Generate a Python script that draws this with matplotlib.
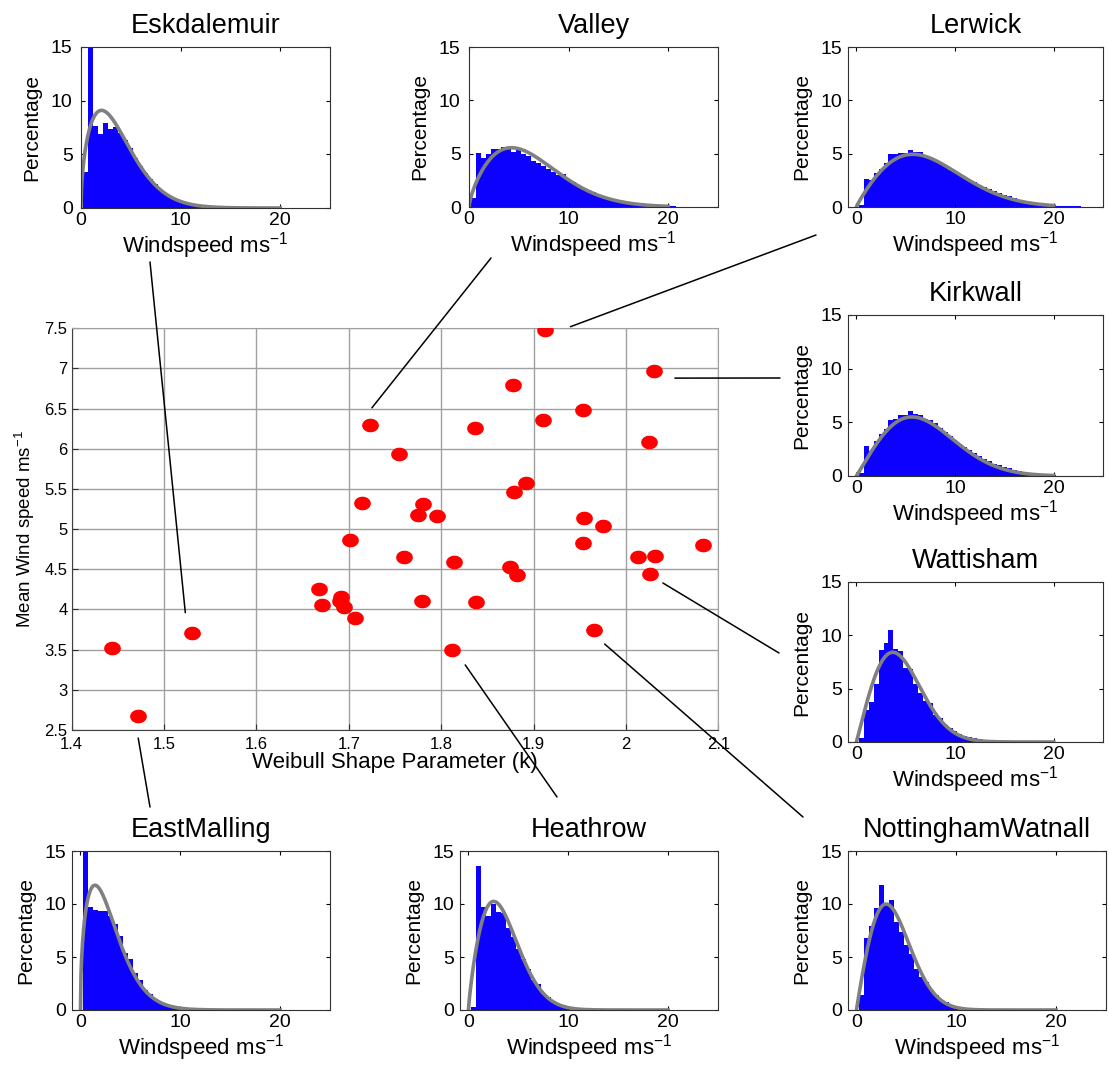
import numpy as np
import matplotlib.pyplot as plt
from matplotlib.path import Path
from matplotlib.patches import ConnectionPatch

plt.rcParams['font.family'] = ['Liberation Sans', 'DejaVu Sans']
plt.rcParams['mathtext.default'] = 'regular'

# Weibull shape parameter and mean wind speed for every station
shape_k = [1.444, 1.472, 1.530, 1.723, 1.754, 1.714, 1.701, 1.760, 1.668, 1.671,
           1.692, 1.690, 1.695, 1.707, 1.912, 2.030, 1.878, 1.954, 1.910, 1.837,
           2.025, 1.892, 1.879, 1.780, 1.775, 1.795, 1.955, 1.975, 1.953, 2.083,
           2.013, 2.031, 1.814, 1.874, 1.882, 2.026, 1.779, 1.838, 1.965, 1.812]
mean_ws = [3.52, 2.67, 3.71, 6.30, 5.94, 5.33, 4.86, 4.65, 4.26, 4.06,
           4.15, 4.10, 4.03, 3.89, 7.48, 6.97, 6.80, 6.48, 6.36, 6.26,
           6.08, 5.58, 5.46, 5.31, 5.17, 5.16, 5.14, 5.04, 4.83, 4.80,
           4.65, 4.67, 4.59, 4.53, 4.43, 4.44, 4.11, 4.09, 3.74, 3.50]

x_ticks = [1.4, 1.5, 1.6, 1.7, 1.8, 1.9, 2.0, 2.1]
x_ticklabels = ['1.4', '1.5', '1.6', '1.7', '1.8', '1.9', '2', '2.1']
y_ticks = [2.5, 3, 3.5, 4, 4.5, 5, 5.5, 6, 6.5, 7, 7.5]
y_ticklabels = ['2.5', '3', '3.5', '4', '4.5', '5', '5.5', '6', '6.5', '7', '7.5']

# windspeed histograms (percentage per 0.5 m/s bin, bins centred on 0.5, 1.0, ...)
bin_width = 0.5
hist_eskdalemuir = [3.4, 17, 7.6, 6.9, 7.9, 7.4, 7.5, 7.0, 6.3, 5.6, 4.7, 3.9, 3.3, 2.7,
                    2.2, 1.7, 1.3, 1.0, 0.8, 0.55, 0.4, 0.28, 0.18, 0.12, 0.08, 0.05, 0.03]
hist_valley = [0.8, 5.1, 4.6, 5.0, 5.4, 5.4, 5.6, 5.5, 5.2, 5.3, 5.0, 4.8, 4.3, 4.1, 3.8,
               3.6, 3.3, 3.0, 3.1, 2.5, 2.3, 2.0, 1.8, 1.55, 1.4, 1.1, 0.95, 0.8, 0.65,
               0.55, 0.42, 0.33, 0.27, 0.2, 0.16, 0.12, 0.1, 0.08, 0.06, 0.1, 0.1, 0.04,
               0.03, 0.02]
hist_lerwick = [0.2, 2.6, 2.55, 3.2, 3.6, 4.1, 5.0, 4.95, 5.05, 5.1, 5.3, 5.2, 5.2, 4.7,
                4.6, 4.3, 4.1, 3.8, 3.5, 3.25, 3.0, 2.7, 2.55, 2.3, 2.1, 1.9, 1.7, 1.5,
                1.3, 1.15, 1.0, 0.8, 0.65, 0.55, 0.45, 0.35, 0.28, 0.22, 0.18, 0.15,
                0.13, 0.11, 0.09, 0.08, 0.05]
hist_kirkwall = [0.3, 2.8, 2.35, 3.3, 3.9, 4.4, 5.25, 5.35, 5.65, 5.65, 6.05, 5.8, 5.7,
                 5.35, 5.25, 4.9, 4.5, 4.1, 3.7, 3.35, 3.0, 2.7, 2.4, 2.1, 1.85, 1.6,
                 1.4, 1.15, 1.0, 0.85, 0.7, 0.55, 0.45, 0.35, 0.28, 0.2, 0.15, 0.1,
                 0.07, 0.05]
hist_wattisham = [0.4, 3.0, 3.75, 5.4, 8.65, 9.3, 10.5, 8.7, 8.5, 6.9, 6.8, 5.4, 4.6,
                  3.8, 3.65, 2.55, 2.25, 1.6, 1.3, 1.0, 0.78, 0.6, 0.45, 0.33, 0.25,
                  0.18, 0.12, 0.08, 0.05, 0.03]
hist_eastmalling = [16, 9.7, 9.4, 9.3, 9.3, 8.9, 8.15, 6.95, 5.4, 4.8, 3.45, 2.8, 1.9,
                    1.55, 1.0, 0.72, 0.55, 0.38, 0.25, 0.17, 0.1, 0.07, 0.05, 0.03]
hist_heathrow = [0.25, 13.6, 9.7, 8.9, 10.0, 9.2, 9.15, 7.7, 6.9, 5.8, 4.85, 3.9, 2.8,
                 2.5, 1.55, 1.2, 0.85, 0.6, 0.45, 0.28, 0.18, 0.12, 0.08, 0.05, 0.03]
hist_nottingham = [1.4, 6.8, 7.9, 9.6, 11.8, 10.0, 10.4, 8.3, 7.4, 6.1, 5.3, 3.9, 3.1,
                   2.6, 1.9, 1.4, 0.9, 0.72, 0.47, 0.31, 0.2, 0.13, 0.08, 0.05, 0.03]

# fitted Weibull parameters (shape k, scale c) for the inset stations
fit_k = [1.53, 1.72, 1.91, 2.03, 2.03, 1.47, 1.81, 1.97]
fit_c = [4.12, 7.07, 8.43, 7.87, 5.15, 3.15, 3.94, 4.25]

stations = ['Eskdalemuir', 'Valley', 'Lerwick', 'Kirkwall', 'Wattisham',
            'EastMalling', 'Heathrow', 'NottinghamWatnall']
hists = [hist_eskdalemuir, hist_valley, hist_lerwick, hist_kirkwall, hist_wattisham,
         hist_eastmalling, hist_heathrow, hist_nottingham]

W, H = 1109, 1066
fig = plt.figure(figsize=(W / 100, H / 100), dpi=100)


def px_axes(x0, y0, x1, y1):
    return fig.add_axes([x0 / W, 1 - y1 / H, (x1 - x0) / W, (y1 - y0) / H])


# inset boxes in pixels (left, top, right, bottom) and x limits
boxes = [(81, 47, 330, 208), (469, 47, 718, 207), (848, 47, 1103, 207),
         (848, 315, 1103, 476), (848, 582, 1103, 742), (72, 851, 330, 1010),
         (460, 851, 718, 1010), (848, 851, 1106, 1010)]
xlefts = [0, 0, -0.85, -0.85, -0.85, -0.85, -0.85, -0.85]

# central scatter
ax = px_axes(71.7, 328.3, 718.3, 730)
t = np.linspace(0, 2 * np.pi, 60)
ellipse = Path(np.column_stack([1.25 * np.cos(t), np.sin(t)]), closed=True)
ax.plot(shape_k, mean_ws, linestyle='none', marker=ellipse, ms=11,
        color='#ff0000', mec='#ff0000', zorder=3)
ax.set_xlim(1.4, 2.1)
ax.set_ylim(2.5, 7.5)
ax.set_xticks(x_ticks, x_ticklabels)
ax.set_yticks(y_ticks, y_ticklabels)
ax.grid(True, color='#a0a0a0', lw=1.0)
ax.set_axisbelow(True)
ax.tick_params(direction='in', length=4, labelsize=12, color='#303030')
ax.tick_params(axis='x', pad=5)
ax.tick_params(axis='y', pad=3)
for s in ['top', 'right']:
    ax.spines[s].set_color('#a0a0a0')
for s in ['left', 'bottom']:
    ax.spines[s].set_color('#404040')
ax.set_xlabel('Weibull Shape Parameter (k)', fontsize=16, labelpad=0)
ax.set_ylabel('Mean Wind speed ms$^{-1}$', fontsize=13.5, labelpad=5)

# windspeed histograms with the Weibull fit
xs = np.linspace(0, 20, 400)
for name, h, box, xl, k, c in zip(stations, hists, boxes, xlefts, fit_k, fit_c):
    a = px_axes(*box)
    centres = bin_width * (np.arange(len(h)) + 1)
    a.bar(centres, h, width=bin_width, color='#0c00ff', edgecolor='none')
    pdf = (k / c) * (xs / c) ** (k - 1) * np.exp(-(xs / c) ** k)
    a.plot(xs, pdf * bin_width * 100, color='#808080', lw=2.6)
    a.set_xlim(xl, 25)
    a.set_ylim(0, 15)
    a.set_xticks([0, 10, 20])
    a.set_yticks([0, 5, 10, 15])
    a.tick_params(direction='in', length=3, labelsize=14, top=True, right=True)
    a.tick_params(axis='x', pad=3)
    a.tick_params(axis='y', pad=6 if xl == 0 else 4)
    for s in a.spines.values():
        s.set_color('#303030')
    a.set_title(name, fontsize=19.5, pad=10)
    a.set_xlabel('Windspeed ms$^{-1}$', fontsize=16, labelpad=0.5)
    a.set_ylabel('Percentage', fontsize=15, labelpad=7)

# leader lines from the scatter to the insets
leader_from = [(1.523, 3.96), (1.725, 6.51), (1.940, 7.52), (2.053, 6.88),
               (2.040, 4.33), (1.472, 2.40), (1.826, 3.31), (1.977, 3.57)]
leader_to = [(150, 262), (491, 258), (816, 235), (780, 378),
             (779, 653), (150, 807), (557, 797), (803, 817)]
for (fx, fy), (tx, ty) in zip(leader_from, leader_to):
    con = ConnectionPatch(xyA=(fx, fy), coordsA=ax.transData,
                          xyB=(tx / W, 1 - ty / H), coordsB='figure fraction',
                          color='black', lw=1.1)
    fig.add_artist(con)

fig.savefig('out.png', dpi=100, facecolor='white')
